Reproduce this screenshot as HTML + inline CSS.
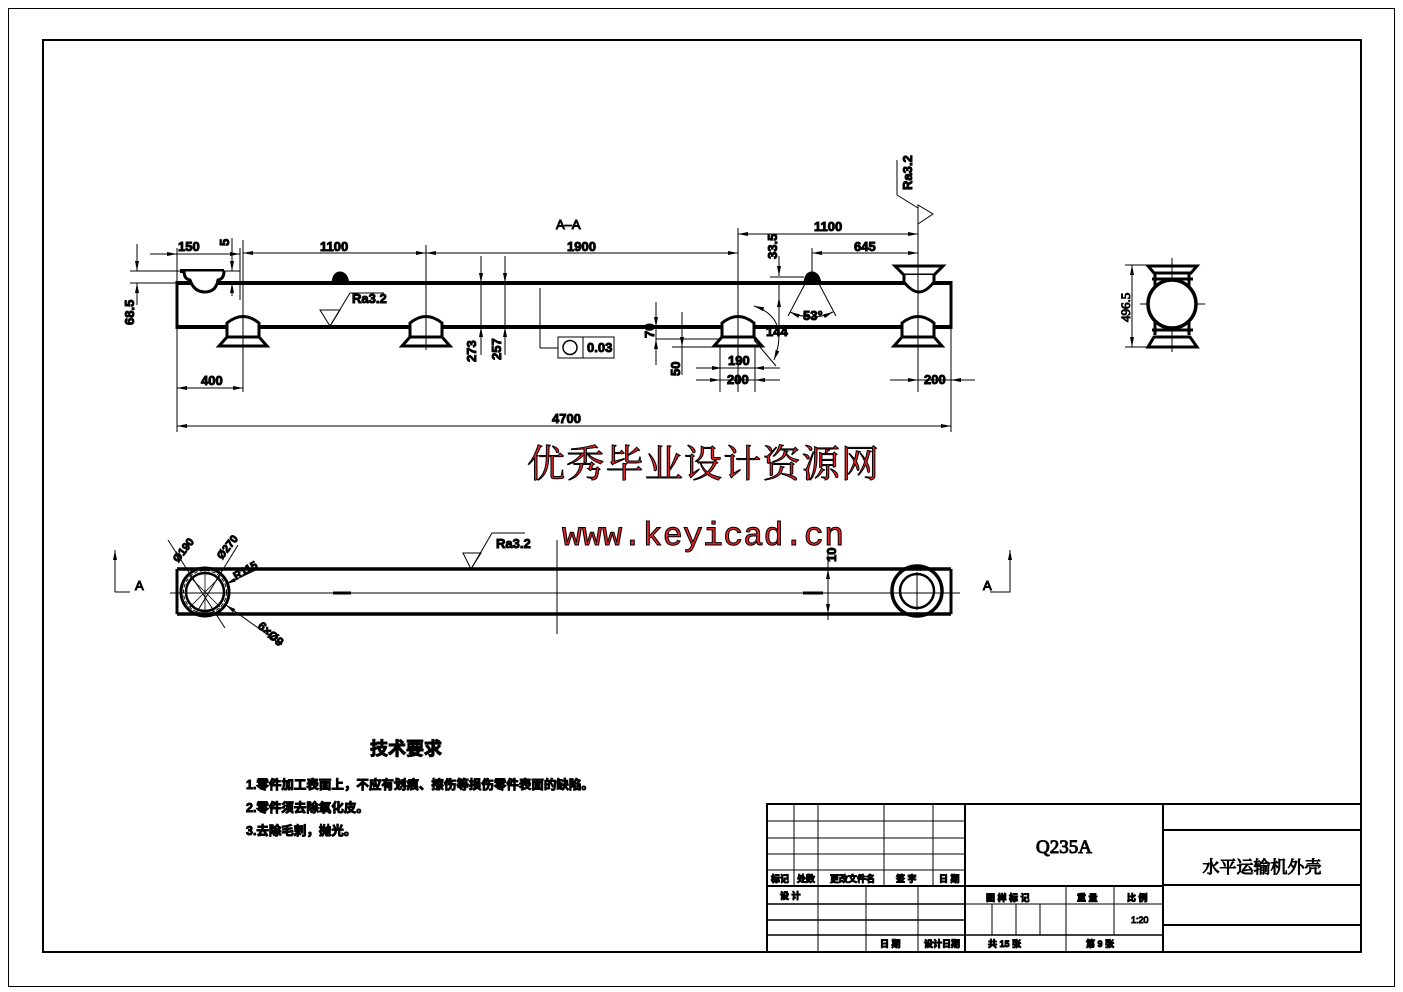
<!DOCTYPE html>
<html><head><meta charset="utf-8"><style>
html,body{margin:0;padding:0;background:#fff;}
svg{display:block;}
text{font-family:"Liberation Sans","Noto Sans CJK SC",sans-serif;fill:#000;}
.d{font-family:"Liberation Serif","Noto Serif CJK SC",serif;font-size:13px;font-weight:bold;}
.cn{font-family:"Liberation Sans","Noto Sans CJK SC",sans-serif;font-weight:bold;}
</style></head><body>
<svg width="1403" height="992" viewBox="0 0 1403 992" xmlns="http://www.w3.org/2000/svg">
<defs>
<marker id="a" viewBox="0 0 10 4" refX="10" refY="2" markerWidth="10" markerHeight="4" orient="auto-start-reverse" markerUnits="userSpaceOnUse"><path d="M0,0 L10,2 L0,4z" fill="#000"/></marker>
</defs>
<rect width="1403" height="992" fill="#fff"/>
<rect x="8.5" y="8.5" width="1386" height="978" fill="none" stroke="#000" stroke-width="1"/>
<rect x="43" y="40" width="1318" height="912" fill="none" stroke="#000" stroke-width="2"/>

<!-- MAIN VIEW -->
<g stroke="#000" fill="none">
<line x1="177" y1="283" x2="951" y2="283" stroke-width="4"/>
<line x1="177" y1="327" x2="951" y2="327" stroke-width="4"/>
<line x1="177" y1="281" x2="177" y2="329" stroke-width="3"/>
<line x1="951" y1="281" x2="951" y2="329" stroke-width="3"/>
<line x1="180" y1="271" x2="224" y2="271" stroke-width="4"/>
<path d="M184,271 Q184,279 190,280 Q194,292 205,292 Q216,292 218,280 Q224,279 224,271" stroke-width="3" fill="#fff"/>
<path d="M895,266 L943,266 L934,275 L904,275 Z" stroke-width="3" fill="#fff"/>
<path d="M904,275 L904,282 Q912,292 919,292 Q926,292 934,282 L934,275" stroke-width="3" fill="#fff"/>
<path d="M332,283 Q333,272 340,272 Q347,272 349,283Z" fill="#000" stroke-width="1"/>
<path d="M804,283 Q805,272 812,272 Q819,272 821,283Z" fill="#000" stroke-width="1"/>
<g stroke-width="3" fill="#fff">
<path d="M227,327 L227,323 Q243,310 259,323 L259,327 L259,337 L227,337 Z"/><path d="M227,337 L259,337 L267,346 L219,346 Z"/>
<path d="M410,327 L410,323 Q426,310 442,323 L442,327 L442,337 L410,337 Z"/><path d="M410,337 L442,337 L450,346 L402,346 Z"/>
<path d="M722,327 L722,323 Q738,310 754,323 L754,327 L754,337 L722,337 Z"/><path d="M722,337 L754,337 L762,346 L714,346 Z"/>
<path d="M902,327 L902,323 Q918,310 934,323 L934,327 L934,337 L902,337 Z"/><path d="M902,337 L934,337 L942,346 L894,346 Z"/>
</g>
<g stroke-width="1">
<line x1="177" y1="248" x2="177" y2="281"/>
<line x1="240" y1="248" x2="240" y2="300"/>
<line x1="243" y1="240" x2="243" y2="392"/>
<line x1="426" y1="245" x2="426" y2="350"/>
<line x1="738" y1="228" x2="738" y2="392"/>
<line x1="918" y1="224" x2="918" y2="392"/>
<line x1="812" y1="248" x2="812" y2="272"/>
<line x1="177" y1="329" x2="177" y2="432"/>
<line x1="951" y1="329" x2="951" y2="432"/>
<line x1="720" y1="346" x2="720" y2="392"/>
<line x1="755" y1="346" x2="755" y2="392"/>
<line x1="130" y1="271" x2="240" y2="271"/>
<line x1="130" y1="283" x2="177" y2="283"/>
<line x1="150" y1="254" x2="177" y2="254" marker-end="url(#a)"/>
<line x1="177" y1="254" x2="240" y2="254"/>
<line x1="213" y1="254" x2="240" y2="254" marker-end="url(#a)"/>
<line x1="232" y1="238" x2="232" y2="271" marker-end="url(#a)"/>
<line x1="232" y1="296" x2="232" y2="283" marker-end="url(#a)"/>
<line x1="243" y1="253" x2="426" y2="253" marker-start="url(#a)" marker-end="url(#a)"/>
<line x1="426" y1="253" x2="738" y2="253" marker-start="url(#a)" marker-end="url(#a)"/>
<line x1="738" y1="234" x2="918" y2="234" marker-start="url(#a)" marker-end="url(#a)"/>
<line x1="812" y1="253" x2="918" y2="253" marker-start="url(#a)" marker-end="url(#a)"/>
<line x1="137" y1="244" x2="137" y2="271" marker-end="url(#a)"/>
<line x1="137" y1="305" x2="137" y2="283" marker-end="url(#a)"/>
<line x1="177" y1="388" x2="243" y2="388" marker-start="url(#a)" marker-end="url(#a)"/>
<line x1="177" y1="426" x2="951" y2="426" marker-start="url(#a)" marker-end="url(#a)"/>
<line x1="696" y1="380" x2="720" y2="380" marker-end="url(#a)"/>
<line x1="720" y1="380" x2="755" y2="380"/>
<line x1="780" y1="380" x2="755" y2="380" marker-end="url(#a)"/>
<line x1="696" y1="368" x2="722" y2="368" marker-end="url(#a)"/>
<line x1="722" y1="368" x2="780" y2="368"/>
<line x1="778" y1="368" x2="754" y2="368" marker-end="url(#a)"/>
<line x1="890" y1="380" x2="918" y2="380" marker-end="url(#a)"/>
<line x1="918" y1="380" x2="951" y2="380"/>
<line x1="975" y1="380" x2="951" y2="380" marker-end="url(#a)"/>
<line x1="481" y1="256" x2="481" y2="283" marker-end="url(#a)"/>
<line x1="481" y1="283" x2="481" y2="327"/>
<line x1="481" y1="355" x2="481" y2="327" marker-end="url(#a)"/>
<line x1="505" y1="256" x2="505" y2="283" marker-end="url(#a)"/>
<line x1="505" y1="283" x2="505" y2="327"/>
<line x1="505" y1="355" x2="505" y2="327" marker-end="url(#a)"/>
<line x1="656" y1="302" x2="656" y2="327" marker-end="url(#a)"/>
<line x1="656" y1="327" x2="656" y2="339"/>
<line x1="656" y1="365" x2="656" y2="339" marker-end="url(#a)"/>
<line x1="656" y1="339" x2="722" y2="339"/>
<line x1="682" y1="312" x2="682" y2="347" marker-end="url(#a)"/>
<line x1="682" y1="375" x2="682" y2="347"/>
<line x1="672" y1="347" x2="720" y2="347"/>
<line x1="779" y1="333" x2="779" y2="297" marker-end="url(#a)"/>
<line x1="779" y1="283" x2="779" y2="310"/>
<line x1="770" y1="277" x2="804" y2="277"/>
<line x1="779" y1="256" x2="779" y2="276" marker-end="url(#a)"/>
<line x1="806" y1="282" x2="788" y2="316"/>
<line x1="818" y1="282" x2="836" y2="316"/>
<path d="M790,312 Q812,322 833,312" marker-start="url(#a)" marker-end="url(#a)"/>
<line x1="754" y1="340" x2="776" y2="366"/>
<path d="M754,306 Q790,318 774,360" marker-start="url(#a)" marker-end="url(#a)"/>
<line x1="540" y1="288" x2="540" y2="348"/>
<line x1="540" y1="348" x2="558" y2="348"/>
<rect x="558" y="337" width="56" height="21"/>
<line x1="583" y1="337" x2="583" y2="358"/>
<circle cx="570" cy="347.5" r="7" stroke-width="1.5"/>
<path d="M320,310 L340,310 L330,326 Z"/>
<path d="M330,326 L350,293 L384,293"/>
<path d="M897,160 L897,195 L918,208"/>
<path d="M918,205 L918,224 L933,214 Z"/>
</g>
<g class="d">
<text x="178" y="251">150</text>
<text x="320" y="251">1100</text>
<text x="567" y="251">1900</text>
<text x="814" y="231">1100</text>
<text x="854" y="251">645</text>
<text x="201" y="385">400</text>
<text x="552" y="423">4700</text>
<text x="728" y="365">190</text>
<text x="727" y="384">200</text>
<text x="924" y="384">200</text>
<text x="352" y="303">Ra3.2</text>
<text x="587" y="352">0.03</text>
<text x="803" y="320">53°</text>
<text x="766" y="336">144</text>
<text transform="translate(229,246) rotate(-90)">5</text>
<text transform="translate(134,325) rotate(-90)">68.5</text>
<text transform="translate(476,362) rotate(-90)">273</text>
<text transform="translate(501,360) rotate(-90)">257</text>
<text transform="translate(654,338) rotate(-90)">70</text>
<text transform="translate(680,376) rotate(-90)">50</text>
<text transform="translate(777,259) rotate(-90)">33.5</text>
<text transform="translate(912,190) rotate(-90)">Ra3.2</text>
</g>
<text x="556" y="229" style="font-size:13px">A–A</text>

<!-- SIDE VIEW -->
<g stroke="#000" fill="none">
<line x1="1172" y1="258" x2="1172" y2="352" stroke-width="1"/>
<line x1="1140" y1="304" x2="1205" y2="304" stroke-width="1"/>
<path d="M1148,266 L1197,266 L1191,273 L1154,273 Z" stroke-width="3"/>
<line x1="1152" y1="279" x2="1193" y2="279" stroke-width="3"/>
<line x1="1155" y1="273" x2="1155" y2="335" stroke-width="3"/>
<line x1="1189" y1="273" x2="1189" y2="335" stroke-width="3"/>
<circle cx="1172" cy="304" r="24" stroke-width="3.5" fill="#fff"/>
<line x1="1152" y1="330" x2="1193" y2="330" stroke-width="3"/>
<path d="M1154,337 L1190,337 L1197,347 L1148,347 Z" stroke-width="3"/>
<line x1="1125" y1="265" x2="1148" y2="265" stroke-width="1"/>
<line x1="1125" y1="347" x2="1148" y2="347" stroke-width="1"/>
<line x1="1132" y1="265" x2="1132" y2="347" stroke-width="1" marker-start="url(#a)" marker-end="url(#a)"/>
</g>
<text class="d" transform="translate(1130,322) rotate(-90)" style="font-weight:normal">496.5</text>

<!-- WATERMARK -->
<text x="703" y="477" text-anchor="middle" textLength="352" style="font-family:'Liberation Serif','Noto Serif CJK SC',serif;font-size:38px;fill:#e3262b">优秀毕业设计资源网</text>
<text x="703" y="545" text-anchor="middle" textLength="282" style="font-family:'Liberation Mono',monospace;font-size:33px;fill:#e3262b">www.keyicad.cn</text>

<!-- BOTTOM VIEW -->
<g stroke="#000" fill="none">
<line x1="177" y1="569" x2="951" y2="569" stroke-width="3.5"/>
<line x1="177" y1="614" x2="951" y2="614" stroke-width="3.5"/>
<line x1="177" y1="569" x2="177" y2="614" stroke-width="3"/>
<line x1="951" y1="569" x2="951" y2="614" stroke-width="3"/>
<line x1="170" y1="593" x2="960" y2="593" stroke-width="1"/>
<line x1="557" y1="540" x2="557" y2="634" stroke-width="1"/>
<line x1="333" y1="593" x2="351" y2="593" stroke-width="3"/>
<line x1="803" y1="593" x2="823" y2="593" stroke-width="3"/>
<circle cx="205" cy="592" r="24" stroke-width="3"/>
<circle cx="205" cy="592" r="19" stroke-width="2.5"/>
<circle cx="205" cy="592" r="21.5" stroke-width="1" stroke-dasharray="4 2"/>
<line x1="190" y1="577" x2="220" y2="607" stroke-width="0.8"/>
<line x1="220" y1="577" x2="190" y2="607" stroke-width="0.8"/>
<line x1="205" y1="570" x2="205" y2="614" stroke-width="0.8"/>
<line x1="168" y1="540" x2="225" y2="628" stroke-width="1"/>
<line x1="238" y1="545" x2="195" y2="615" stroke-width="1"/>
<line x1="260" y1="568" x2="226" y2="584" stroke-width="1" marker-end="url(#a)"/>
<line x1="282" y1="645" x2="226" y2="605" stroke-width="1" marker-end="url(#a)"/>
<circle cx="917" cy="591" r="25" stroke-width="3.5"/>
<circle cx="917" cy="591" r="17" stroke-width="2.5"/>
<line x1="917" y1="572" x2="917" y2="610" stroke-width="1"/>
<line x1="828" y1="550" x2="828" y2="620" stroke-width="1"/>
<line x1="828" y1="580" x2="828" y2="569" marker-end="url(#a)" stroke-width="1"/>
<line x1="828" y1="600" x2="828" y2="614" marker-end="url(#a)" stroke-width="1"/>
<path d="M463,553 L481,553 L471,569 Z" stroke-width="1"/>
<path d="M471,569 L492,533 L525,533" stroke-width="1"/>
<path d="M115,592 L130,592" stroke-width="1"/>
<line x1="115" y1="592" x2="115" y2="550" stroke-width="1" marker-end="url(#a)"/>
<path d="M990,592 L1010,592 L1010,550" stroke-width="1" marker-end="url(#a)"/>
</g>
<g class="d">
<text x="496" y="548">Ra3.2</text>
<text transform="translate(836,562) rotate(-90)">10</text>
<text transform="translate(178,563) rotate(-52)" style="font-size:11px">Ø190</text>
<text transform="translate(222,560) rotate(-52)" style="font-size:11px">Ø270</text>
<text transform="translate(236,580) rotate(-30)" style="font-size:11px">R115</text>
<text transform="translate(257,627) rotate(42)" style="font-size:12px">6×Ø9</text>
</g>
<text x="135" y="590" style="font-size:13px">A</text>
<text x="983" y="590" style="font-size:13px">A</text>

<!-- TECH REQ -->
<text x="370" y="755" class="cn" style="font-size:18px">技术要求</text>
<text x="246" y="789" class="cn" style="font-size:12.5px">1.零件加工表面上，不应有划痕、擦伤等损伤零件表面的缺陷。</text>
<text x="246" y="812" class="cn" style="font-size:12.5px">2.零件须去除氧化皮。</text>
<text x="246" y="835" class="cn" style="font-size:12.5px">3.去除毛刺，抛光。</text>

<!-- TITLE BLOCK -->
<g stroke="#000" fill="none">
<rect x="767" y="804" width="594" height="148" stroke-width="2"/>
<line x1="965" y1="804" x2="965" y2="952" stroke-width="2"/>
<line x1="1163" y1="804" x2="1163" y2="952" stroke-width="2"/>
<g stroke-width="1">
<line x1="767" y1="821" x2="965" y2="821"/>
<line x1="767" y1="838" x2="965" y2="838"/>
<line x1="767" y1="854" x2="965" y2="854"/>
<line x1="767" y1="870" x2="965" y2="870"/>
<line x1="794" y1="804" x2="794" y2="886"/>
<line x1="818" y1="804" x2="818" y2="952"/>
<line x1="884" y1="804" x2="884" y2="886"/>
<line x1="933" y1="804" x2="933" y2="886"/>
<line x1="866" y1="886" x2="866" y2="952"/>
<line x1="918" y1="886" x2="918" y2="952"/>
<line x1="992" y1="904" x2="992" y2="935"/>
<line x1="1016" y1="904" x2="1016" y2="935"/>
<line x1="1040" y1="904" x2="1040" y2="935"/>
<line x1="1066" y1="886" x2="1066" y2="952"/>
<line x1="1114" y1="886" x2="1114" y2="935"/>
<line x1="965" y1="904" x2="1163" y2="904"/>
</g>
<line x1="767" y1="886" x2="1163" y2="886" stroke-width="2"/>
<line x1="767" y1="904" x2="965" y2="904" stroke-width="1.5"/>
<line x1="767" y1="920" x2="965" y2="920" stroke-width="1.5"/>
<line x1="767" y1="935" x2="1163" y2="935" stroke-width="1.5"/>
<line x1="1163" y1="830" x2="1361" y2="830" stroke-width="2"/>
<line x1="1163" y1="885" x2="1361" y2="885" stroke-width="2"/>
<line x1="1163" y1="925" x2="1361" y2="925" stroke-width="2"/>
</g>
<g class="cn" style="font-size:9px">
<text x="771" y="882">标记</text><text x="797" y="882">处数</text><text x="830" y="882">更改文件名</text><text x="896" y="882">签 字</text><text x="939" y="882">日 期</text>
<text x="780" y="899">设 计</text>
<text x="880" y="947">日 期</text><text x="924" y="947">设计日期</text>
<text x="986" y="901">图 样 标 记</text><text x="1077" y="901">重 量</text><text x="1127" y="901">比 例</text>
<text x="1131" y="923" style="font-weight:normal">1:20</text>
<text x="988" y="947">共  15  张</text><text x="1086" y="947">第  9  张</text>
</g>
<text x="1064" y="853" text-anchor="middle" style="font-family:'Liberation Serif',serif;font-size:19px">Q235A</text>
<text x="1262" y="873" text-anchor="middle" style="font-family:'Liberation Serif','Noto Serif CJK SC',serif;font-size:17px">水平运输机外壳</text>
</svg>
</body></html>
